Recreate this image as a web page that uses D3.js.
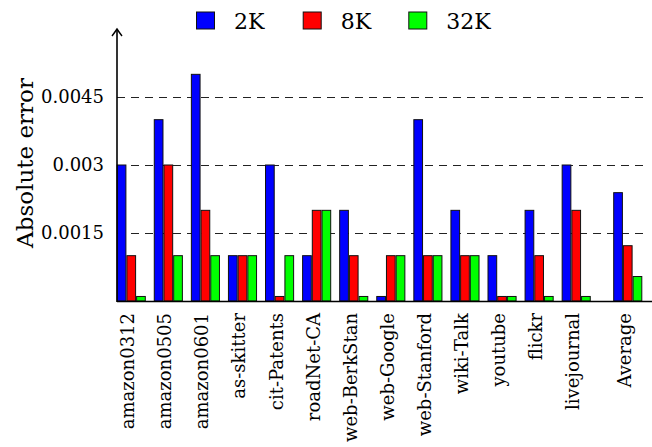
<!DOCTYPE html>
<html>
<head>
<meta charset="utf-8">
<script src="https://cdn.jsdelivr.net/npm/d3@7"></script>
<style>
  html, body { margin: 0; padding: 0; background: #fff; }
  svg { display: block; }
</style>
</head>
<body>
<div id="chart"></div>
<script>
// Graph datasets and the averaged row
const categories = ["amazon0312", "amazon0505", "amazon0601", "as-skitter", "cit-Patents",
  "roadNet-CA", "web-BerkStan", "web-Google", "web-Stanford", "wiki-Talk", "youtube",
  "flickr", "livejournal", "Average"];
const seriesNames = ["2K", "8K", "32K"];
const values2K  = [0.003, 0.004, 0.005, 0.001, 0.003, 0.001, 0.002, 0.0001, 0.004, 0.002, 0.001, 0.002, 0.003, 0.00239];
const values8K  = [0.001, 0.003, 0.002, 0.001, 0.0001, 0.002, 0.001, 0.001, 0.001, 0.001, 0.0001, 0.001, 0.002, 0.00122];
const values32K = [0.0001, 0.001, 0.001, 0.001, 0.001, 0.002, 0.0001, 0.001, 0.001, 0.001, 0.0001, 0.0001, 0.0001, 0.00054];
const yTicks = [0.0015, 0.003, 0.0045];
const yTickLabels = ["0.0015", "0.003", "0.0045"];
const colors = ["#0000ff", "#ff0000", "#00ff00"];

const FONT = "DejaVu Serif";
const W = 652, H = 447;
const svg = d3.select("#chart").append("svg").attr("width", W).attr("height", H);

const series = [values2K, values8K, values32K];
const n = categories.length;
// the summary group sits a little apart from the datasets
const slot = i => (i < n - 1 ? i : i + 0.39);

const x = d3.scaleLinear().domain([0, 1]).range([116.7, 153.78]);
const barW = 9.7;
const y = d3.scaleLinear().domain([0, 0.006]).range([301, 29]);

// dashed horizontal grid
svg.append("g").selectAll("line").data(yTicks).join("line")
  .attr("x1", 117).attr("x2", 646)
  .attr("y1", d => Math.round(y(d)) + 0.5).attr("y2", d => Math.round(y(d)) + 0.5)
  .attr("stroke", "#222").attr("stroke-width", 1).attr("stroke-dasharray", "8,6");

// bars
const groups = svg.append("g").selectAll("g").data(categories).join("g");
groups.each(function (c, i) {
  d3.select(this).selectAll("rect").data(series.map((s, k) => ({ v: s[i], k }))).join("rect")
    .attr("x", d => x(slot(i)) + d.k * barW + 0.5)
    .attr("y", d => y(d.v))
    .attr("width", barW - 1)
    .attr("height", d => y(0) - y(d.v))
    .attr("fill", d => colors[d.k])
    .attr("stroke", "#111").attr("stroke-width", 1);
});

// y tick labels
svg.append("g").selectAll("text").data(yTicks).join("text")
  .attr("x", 104).attr("y", d => y(d))
  .attr("dy", "0.36em")
  .attr("text-anchor", "end")
  .style("font-family", FONT)
  .style("font-size", "18px")
  .text((d, i) => yTickLabels[i]);

// axes
svg.append("line").attr("x1", 117).attr("x2", 652).attr("y1", 301.5).attr("y2", 301.5)
  .attr("stroke", "#000").attr("stroke-width", 1.6);
svg.append("line").attr("x1", 117).attr("x2", 117).attr("y1", 302).attr("y2", y(0.006) + 1)
  .attr("stroke", "#000").attr("stroke-width", 1.6);
svg.append("path")
  .attr("d", `M${112},${y(0.006) + 7} Q${115},${y(0.006) + 3} ${117},${y(0.006)} Q${119},${y(0.006) + 3} ${122},${y(0.006) + 7}`)
  .attr("fill", "none").attr("stroke", "#000").attr("stroke-width", 1.4);

// category labels, rotated
svg.append("g").selectAll("text").data(categories).join("text")
  .attr("transform", (d, i) => `translate(${x(slot(i)) + 1.5 * barW + 3},313) rotate(-90)`)
  .attr("text-anchor", "end")
  .style("font-family", FONT)
  .style("font-size", "18px")
  .text(d => d);

// y axis title
svg.append("text")
  .attr("transform", `translate(33,163) rotate(-90)`)
  .attr("text-anchor", "middle")
  .style("font-family", FONT)
  .style("font-size", "23px")
  .text("Absolute error");

// legend
const legendX = [196, 302.7, 408.3];
const legend = svg.append("g").selectAll("g").data(seriesNames).join("g")
  .attr("transform", (d, i) => `translate(${legendX[i]},0)`);
legend.append("rect")
  .attr("x", 0.5).attr("y", 12).attr("width", 18).attr("height", 17)
  .attr("fill", (d, i) => colors[i]).attr("stroke", "#111").attr("stroke-width", 1);
legend.append("text")
  .attr("x", 38).attr("y", 29.3)
  .style("font-family", FONT)
  .style("font-size", "22px")
  .text(d => d);
</script>
</body>
</html>
